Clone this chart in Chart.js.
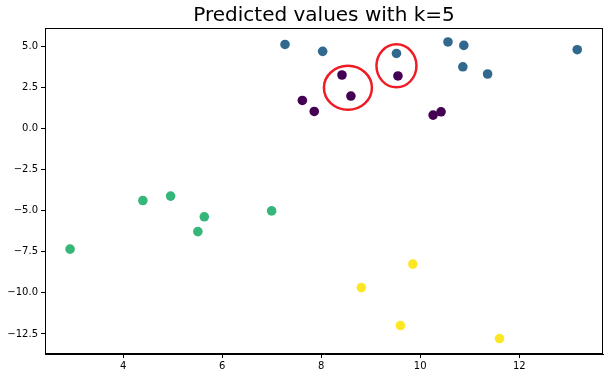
<!DOCTYPE html>
<html>
<head>
<meta charset="utf-8">
<script src="https://cdn.jsdelivr.net/npm/chart.js@4/dist/chart.umd.min.js"></script>
<style>
  body { margin: 0; background: #fff; }
</style>
</head>
<body>
<canvas id="knn-chart" width="610" height="378"></canvas>
<script>
// points per predicted class
const class0X = [8.42, 8.60, 7.62, 7.86, 9.55, 10.26, 10.42];
const class0Y = [3.26, 1.98, 1.71, 1.04, 3.20, 0.82, 1.02];
const class1X = [7.27, 8.03, 9.52, 10.56, 10.88, 10.86, 11.36, 13.17];
const class1Y = [5.12, 4.70, 4.57, 5.27, 5.06, 3.76, 3.32, 4.80];
const class2X = [2.93, 4.40, 4.96, 5.64, 5.51, 7.00];
const class2Y = [-7.34, -4.38, -4.11, -5.37, -6.27, -5.01];
const class3X = [9.85, 8.81, 9.60, 11.60];
const class3Y = [-8.25, -9.68, -11.99, -12.78];

// red rings around the new points
const ringX = [8.54, 9.52];
const ringY = [2.48, 3.82];

const xTicks = [4, 6, 8, 10, 12];
const yTicks = [-12.5, -10.0, -7.5, -5.0, -2.5, 0.0, 2.5, 5.0];

const colors = ["#440154", "#31688e", "#35b779", "#fde725"];

function toPoints(xs, ys) {
    return xs.map((x, i) => ({ x: x, y: ys[i] }));
}

const boxAndRings = {
    id: "boxAndRings",
    afterDatasetsDraw(chart) {
        const { ctx, chartArea: a, scales: { x, y } } = chart;
        ctx.save();
        ctx.strokeStyle = "#000";
        ctx.lineWidth = 1;
        ctx.strokeRect(Math.round(a.left) + 0.5, Math.round(a.top) + 0.5,
                       Math.round(a.width) - 1, Math.round(a.height) - 1);
        ctx.strokeStyle = "#ee1c25";
        ctx.lineWidth = 2.5;
        const radii = [[24, 22], [20, 21.5]];
        ringX.forEach((rx, i) => {
            ctx.beginPath();
            ctx.ellipse(x.getPixelForValue(rx), y.getPixelForValue(ringY[i]),
                        radii[i][0], radii[i][1], 0, 0, Math.PI * 2);
            ctx.stroke();
        });
        ctx.restore();
    }
};

const dataSets = [
    toPoints(class0X, class0Y),
    toPoints(class1X, class1Y),
    toPoints(class2X, class2Y),
    toPoints(class3X, class3Y)
].map((pts, i) => ({
    data: pts,
    backgroundColor: colors[i],
    borderWidth: 0,
    pointRadius: 4.8,
    pointHoverRadius: 4.8
}));

const tickFont = { family: "DejaVu Sans", size: 10 };

new Chart(document.getElementById("knn-chart").getContext("2d"), {
    type: "scatter",
    data: { datasets: dataSets },
    options: {
        responsive: false,
        animation: false,
        events: [],
        layout: { padding: { left: 0, right: 7, top: 0, bottom: 0 } },
        plugins: {
            legend: { display: false },
            tooltip: { enabled: false },
            title: {
                display: true,
                text: "Predicted values with k=5",
                fullSize: false,
                color: "#000",
                font: { family: "DejaVu Sans", size: 20, weight: "normal", lineHeight: 1.2 },
                padding: { top: 4, bottom: 0 }
            }
        },
        scales: {
            x: {
                min: 2.424,
                max: 13.69,
                afterFit: s => { s.height = 24; },
                afterBuildTicks: s => { s.ticks = xTicks.map(v => ({ value: v })); },
                grid: { drawOnChartArea: false, drawTicks: true, tickLength: 4, tickColor: "#000" },
                border: { display: true, color: "#000" },
                ticks: { color: "#000", font: tickFont, padding: 2, maxRotation: 0 }
            },
            y: {
                min: -13.72,
                max: 6.12,
                afterFit: s => { s.width = 45; },
                afterBuildTicks: s => { s.ticks = yTicks.map(v => ({ value: v })); },
                grid: { drawOnChartArea: false, drawTicks: true, tickLength: 4, tickColor: "#000" },
                border: { display: true, color: "#000" },
                ticks: {
                    color: "#000",
                    font: tickFont,
                    padding: 3,
                    callback: v => v.toFixed(1).replace("-", "\u2212")
                }
            }
        }
    },
    plugins: [boxAndRings]
});
</script>
</body>
</html>
